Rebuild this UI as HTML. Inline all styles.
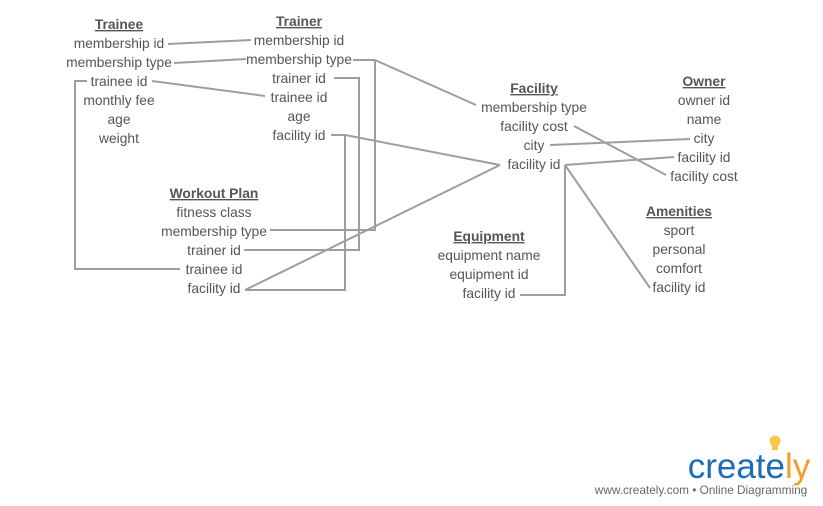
<!DOCTYPE html>
<html><head><style>
html,body{margin:0;padding:0;background:#fff;width:823px;height:506px;overflow:hidden}
text{font-family:"Liberation Sans",sans-serif;font-size:13.8px;fill:#555;text-anchor:middle}
.t{font-weight:bold;text-decoration:underline}
line,polyline{stroke:#9e9e9e;stroke-width:2;fill:none}
</style></head><body>
<svg width="823" height="506" xmlns="http://www.w3.org/2000/svg">
<g>
<line x1="168" y1="44" x2="251" y2="40"/>
<line x1="174" y1="63" x2="246" y2="59"/>
<polyline points="353,60 375,60 476,105"/>
<polyline points="375,60 375,230 270,230"/>
<polyline points="87,81 75,81 75,269 180,269"/>
<line x1="152" y1="81" x2="265" y2="96"/>
<polyline points="334,78 359,78 359,250 244,250"/>
<polyline points="331,135 345,135 345,290 245,290"/>
<line x1="345" y1="135" x2="500" y2="165"/>
<line x1="245" y1="290" x2="500" y2="165"/>
<line x1="550" y1="145" x2="690" y2="139"/>
<line x1="574" y1="126" x2="666" y2="175"/>
<line x1="565" y1="165" x2="674" y2="157"/>
<polyline points="565,165 565,295 520,295"/>
<line x1="565" y1="165" x2="650" y2="288"/>
</g>
<g>
<text x="119" y="29" class="t">Trainee</text>
<text x="119" y="48">membership id</text>
<text x="119" y="67">membership type</text>
<text x="119" y="86">trainee id</text>
<text x="119" y="105">monthly fee</text>
<text x="119" y="124">age</text>
<text x="119" y="143">weight</text>

<text x="299" y="26" class="t">Trainer</text>
<text x="299" y="45">membership id</text>
<text x="299" y="64">membership type</text>
<text x="299" y="83">trainer id</text>
<text x="299" y="102">trainee id</text>
<text x="299" y="121">age</text>
<text x="299" y="140">facility id</text>

<text x="214" y="198" class="t">Workout Plan</text>
<text x="214" y="217">fitness class</text>
<text x="214" y="236">membership type</text>
<text x="214" y="255">trainer id</text>
<text x="214" y="274">trainee id</text>
<text x="214" y="293">facility id</text>

<text x="534" y="93" class="t">Facility</text>
<text x="534" y="112">membership type</text>
<text x="534" y="131">facility cost</text>
<text x="534" y="150">city</text>
<text x="534" y="169">facility id</text>

<text x="704" y="86" class="t">Owner</text>
<text x="704" y="105">owner id</text>
<text x="704" y="124">name</text>
<text x="704" y="143">city</text>
<text x="704" y="162">facility id</text>
<text x="704" y="181">facility cost</text>

<text x="679" y="216" class="t">Amenities</text>
<text x="679" y="235">sport</text>
<text x="679" y="254">personal</text>
<text x="679" y="273">comfort</text>
<text x="679" y="292">facility id</text>

<text x="489" y="241" class="t">Equipment</text>
<text x="489" y="260">equipment name</text>
<text x="489" y="279">equipment id</text>
<text x="489" y="298">facility id</text>
</g>
<g>
<circle cx="775" cy="441" r="5.5" fill="#f5c84c"/>
<rect x="772" y="445" width="6" height="5" fill="#f5c84c"/>
<text x="749" y="478" style="font-size:35px;fill:#1e6bb8;text-anchor:middle">create<tspan style="fill:#f39c2a">ly</tspan></text>
<text x="701" y="494" style="font-size:11.8px;fill:#666">www.creately.com • Online Diagramming</text>
</g>
</svg>
</body></html>
